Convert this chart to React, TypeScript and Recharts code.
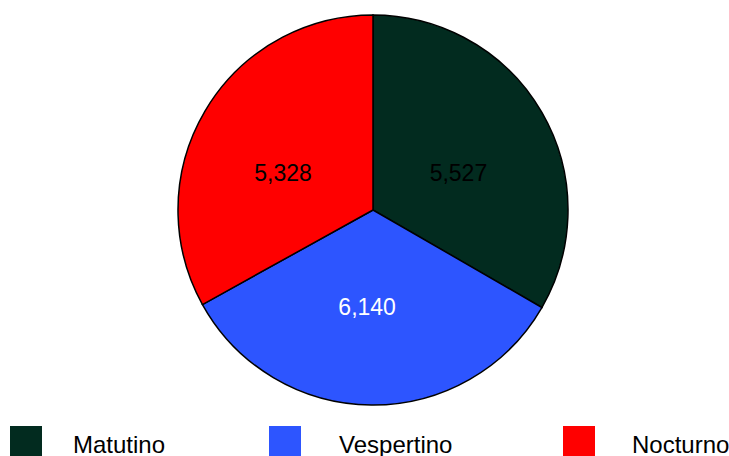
import { Cell, Legend, Pie, PieChart } from "recharts";

const categories = ["Matutino", "Vespertino", "Nocturno"];
const students = [5527, 6140, 5328];
// slice sizes as drawn (the slices are almost equal in the picture)
const shares = [120, 121, 119];
const colors = ["#022b1f", "#2d55ff", "#ff0000"];
const labelColors = ["#000000", "#ffffff", "#000000"];

// small nudges of the value labels from the slice mid-point
const labelNudge = [
  [1, 12],
  [-5, 0],
  [-6, 12],
];
// legend item left edges (swatch, text)
const legendSwatchX = [10, 269, 563];
const legendTextX = [73, 339, 632];

const data = categories.map((name, i) => ({
  name,
  share: shares[i],
  students: students[i],
}));

const RADIAN = Math.PI / 180;
const FONT = "'Liberation Sans', Arial, sans-serif";

const renderLabel = (props: any) => {
  const { cx, cy, midAngle, outerRadius, index } = props;
  const r = outerRadius * 0.5;
  const x = cx + r * Math.cos(-midAngle * RADIAN) + labelNudge[index][0];
  const y = cy + r * Math.sin(-midAngle * RADIAN) + labelNudge[index][1];
  return (
    <text
      x={x}
      y={y}
      fill={labelColors[index]}
      textAnchor="middle"
      dominantBaseline="central"
      fontSize={23}
      fontFamily={FONT}
    >
      {students[index].toLocaleString("en-US")}
    </text>
  );
};

const renderLegend = () => (
  <div style={{ position: "relative", width: 729, height: 40 }}>
    {categories.map((name, i) => (
      <div key={name}>
        <div
          style={{
            position: "absolute",
            left: legendSwatchX[i],
            top: 0,
            width: 32,
            height: 32,
            background: colors[i],
          }}
        />
        <span
          style={{
            position: "absolute",
            left: legendTextX[i],
            top: 5,
            fontSize: 24,
            lineHeight: "28px",
            color: "#000",
            whiteSpace: "nowrap",
            fontFamily: FONT,
          }}
        >
          {name}
        </span>
      </div>
    ))}
  </div>
);

export default function App() {
  return (
    <div style={{ position: "fixed", left: 0, top: 0, width: 729, height: 456, overflow: "hidden", background: "#fff" }}>
      <PieChart width={729} height={456} margin={{ top: 0, right: 0, bottom: 0, left: 0 }}>
        <Pie
          data={data}
          dataKey="share"
          nameKey="name"
          cx={373}
          cy={210}
          outerRadius={195}
          startAngle={90}
          endAngle={-270}
          stroke="#000000"
          strokeWidth={1.5}
          label={renderLabel}
          labelLine={false}
          isAnimationActive={false}
        >
          {categories.map((name, i) => (
            <Cell key={name} fill={colors[i]} />
          ))}
        </Pie>
        <Legend
          content={renderLegend}
          wrapperStyle={{ position: "absolute", left: 0, top: 426, width: 729, height: 40 }}
        />
      </PieChart>
    </div>
  );
}
